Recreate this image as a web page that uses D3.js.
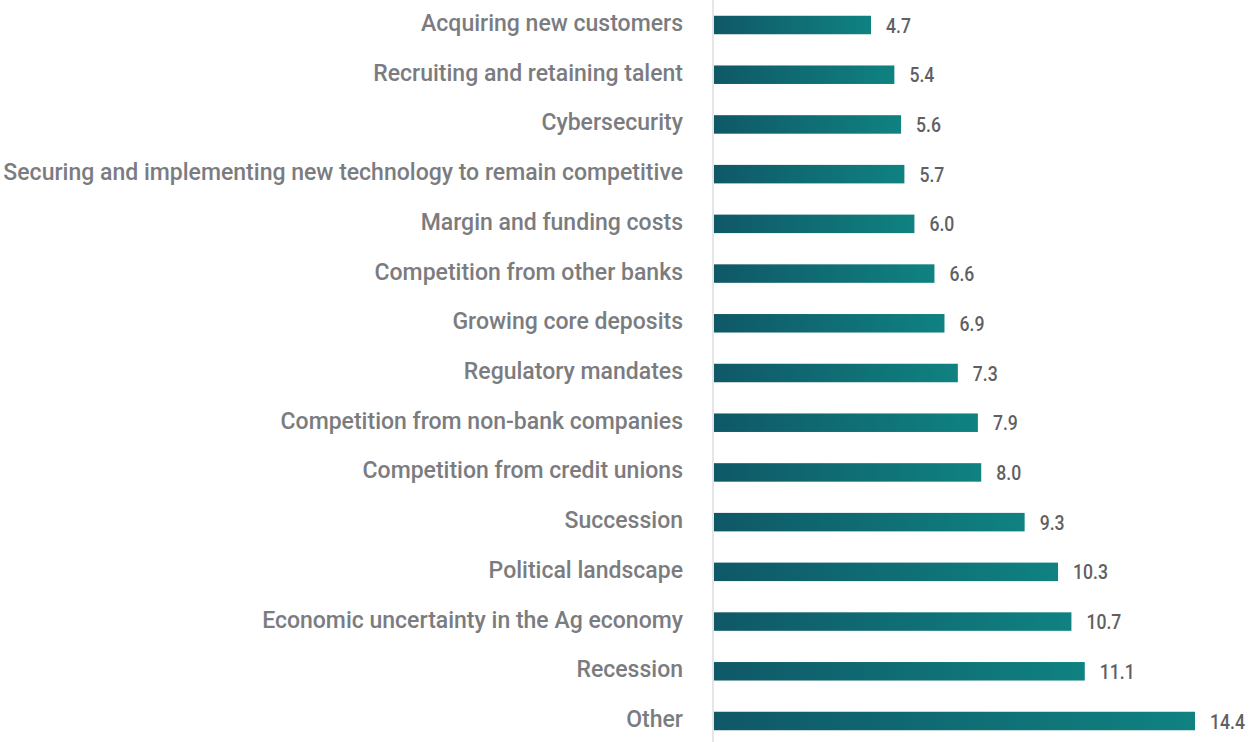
<!DOCTYPE html>
<html>
<head>
<meta charset="utf-8">
<script src="https://cdn.jsdelivr.net/npm/d3@7"></script>
<style>
  html, body { margin: 0; padding: 0; background: #fff; }
  svg { display: block; }
  .cat { font-family: "Roboto", "Liberation Sans", sans-serif; font-weight: 500; fill: #7b7c80; }
  .val { font-family: "Roboto", "Liberation Sans", sans-serif; font-weight: 500; fill: #5f6063; }
</style>
</head>
<body>
<svg id="chart" width="1249" height="742"></svg>
<script>
const categories = [
  "Acquiring new customers",
  "Recruiting and retaining talent",
  "Cybersecurity",
  "Securing and implementing new technology to remain competitive",
  "Margin and funding costs",
  "Competition from other banks",
  "Growing core deposits",
  "Regulatory mandates",
  "Competition from non-bank companies",
  "Competition from credit unions",
  "Succession",
  "Political landscape",
  "Economic uncertainty in the Ag economy",
  "Recession",
  "Other"
];
const values = [4.7, 5.4, 5.6, 5.7, 6.0, 6.6, 6.9, 7.3, 7.9, 8.0, 9.3, 10.3, 10.7, 11.1, 14.4];

const width = 1249, height = 742;
const margin = { right: 54, left: 714 };
const labelRight = 683;      // right edge of category labels
const labelMaxWidth = 680;   // width available for the longest label
const condense = 0.84;       // horizontal squeeze for a condensed look

const svg = d3.select("#chart");

const x = d3.scaleLinear()
  .domain([0, 14.4])
  .range([margin.left, width - margin.right]);

const y = d3.scaleBand()
  .domain(categories)
  .range([0, 746])
  .paddingInner(0.628)
  .paddingOuter(0.317);

// horizontal teal gradient used by every bar
const defs = svg.append("defs");
const grad = defs.append("linearGradient")
  .attr("id", "barGrad")
  .attr("x1", "0%").attr("x2", "100%")
  .attr("y1", "0%").attr("y2", "0%");
grad.append("stop").attr("offset", "0%").attr("stop-color", "#0f5867");
grad.append("stop").attr("offset", "100%").attr("stop-color", "#0f8281");

// baseline axis line
svg.append("line")
  .attr("x1", margin.left - 1).attr("x2", margin.left - 1)
  .attr("y1", 0).attr("y2", height)
  .attr("stroke", "#dcdcdc")
  .attr("stroke-width", 1.5);

const rows = svg.append("g").selectAll("g")
  .data(categories.map((c, i) => ({ cat: c, v: values[i] })))
  .join("g");

rows.append("rect")
  .attr("x", x(0))
  .attr("y", d => y(d.cat))
  .attr("width", d => x(d.v) - x(0))
  .attr("height", y.bandwidth())
  .attr("fill", "url(#barGrad)");

// value labels, squeezed horizontally around their left anchor
rows.append("text")
  .attr("class", "val")
  .attr("transform", d => {
    const cx = x(d.v) + 15, cy = y(d.cat) + y.bandwidth() / 2;
    return `translate(${cx},${cy}) scale(${condense},1)`;
  })
  .attr("dy", "0.36em")
  .attr("font-size", 21)
  .text(d => d3.format(".1f")(d.v));

// category labels, right-aligned and squeezed to a condensed width
const cats = rows.append("text")
  .attr("class", "cat")
  .attr("text-anchor", "end")
  .attr("dy", "0.36em")
  .attr("font-size", 23.5)
  .text(d => d.cat);

const widest = d3.max(cats.nodes(), n => n.getComputedTextLength());
const sx = Math.min(1, labelMaxWidth / widest);
cats.attr("transform", d =>
  `translate(${labelRight},${y(d.cat) + y.bandwidth() / 2 - 2.5}) scale(${sx},1)`);
</script>
</body>
</html>
